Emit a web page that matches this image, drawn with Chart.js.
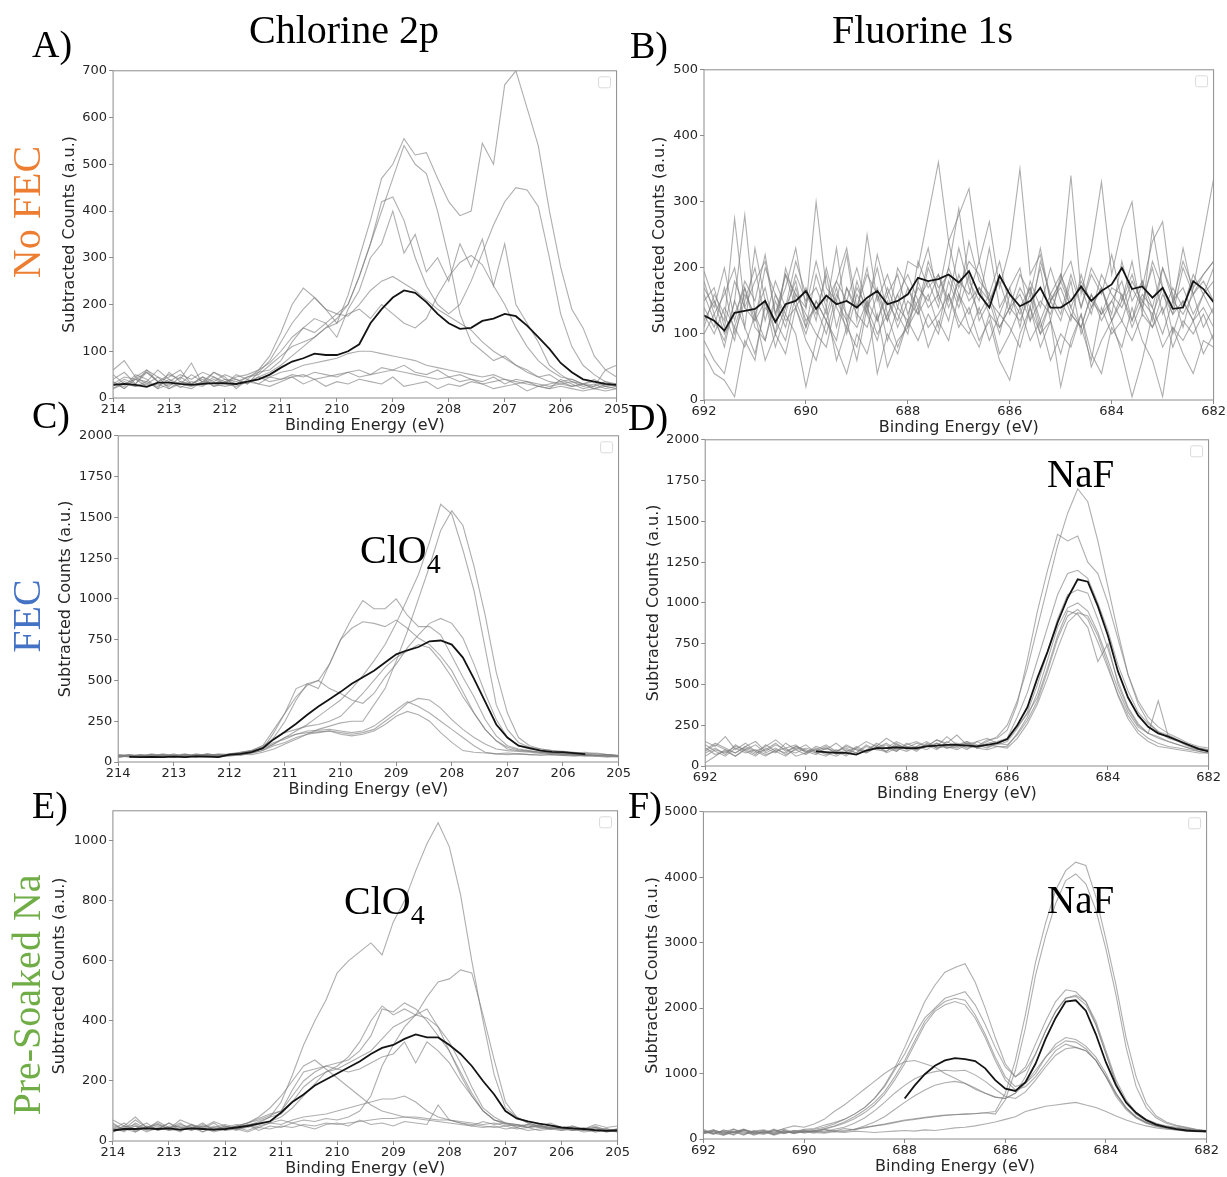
<!DOCTYPE html>
<html>
<head>
<meta charset="utf-8">
<title>Cl 2p / F 1s spectra</title>
<script src="https://cdn.jsdelivr.net/npm/chart.js@4.4.1/dist/chart.umd.min.js"></script>
<style>
  html, body { margin: 0; padding: 0; background: #fff; }
  body { position: relative; width: 1227px; height: 1177px; overflow: hidden; }
  canvas { position: absolute; z-index: 1; }
  #labels { position: absolute; left: 0; top: 0; z-index: 5; pointer-events: none; }
  #labels text { font-family: 'Liberation Serif', 'Times New Roman', serif; fill: #000; }
</style>
</head>
<body>
<svg id="labels" width="1227" height="1177">
  <text x="32" y="57" font-size="38">A)</text>
  <text x="249" y="43" font-size="40">Chlorine 2p</text>
  <text x="630" y="58" font-size="38">B)</text>
  <text x="832" y="43" font-size="40">Fluorine 1s</text>
  <text x="32" y="428" font-size="38">C)</text>
  <text x="628" y="430" font-size="38">D)</text>
  <text x="32" y="818" font-size="38">E)</text>
  <text x="628" y="818" font-size="38">F)</text>
  <text transform="translate(40,212) rotate(-90)" text-anchor="middle" font-size="40" style="fill:#ED7D31">No FEC</text>
  <text transform="translate(40,616) rotate(-90)" text-anchor="middle" font-size="40" style="fill:#4472C4">FEC</text>
  <text transform="translate(40,995) rotate(-90)" text-anchor="middle" font-size="40" style="fill:#70AD47">Pre-Soaked Na</text>
  <text x="360" y="563" font-size="40">ClO<tspan font-size="28" dy="10">4</tspan></text>
  <text x="1047" y="487" font-size="39">NaF</text>
  <text x="344" y="914" font-size="40">ClO<tspan font-size="28" dy="10">4</tspan></text>
  <text x="1047" y="913" font-size="39">NaF</text>
</svg>
<script>
// binding energy grids (eV)
const clEnergy = [214, 213.8, 213.6, 213.4, 213.2, 213, 212.8, 212.6, 212.4, 212.2, 212,
  211.8, 211.6, 211.4, 211.2, 211, 210.8, 210.6, 210.4, 210.2, 210,
  209.8, 209.6, 209.4, 209.2, 209, 208.8, 208.6, 208.4, 208.2, 208,
  207.8, 207.6, 207.4, 207.2, 207, 206.8, 206.6, 206.4, 206.2, 206,
  205.8, 205.6, 205.4, 205.2, 205];
const fEnergy = [692, 691.8, 691.6, 691.4, 691.2, 691, 690.8, 690.6, 690.4, 690.2, 690,
  689.8, 689.6, 689.4, 689.2, 689, 688.8, 688.6, 688.4, 688.2, 688,
  687.8, 687.6, 687.4, 687.2, 687, 686.8, 686.6, 686.4, 686.2, 686,
  685.8, 685.6, 685.4, 685.2, 685, 684.8, 684.6, 684.4, 684.2, 684,
  683.8, 683.6, 683.4, 683.2, 683, 682.8, 682.6, 682.4, 682.2, 682];

// A) Cl 2p, no FEC
const clNoFecScans = [
  [35,20,45,30,25,40,22,35,28,45,30, 30,45,50,70,90,110,120,130,150,160, 220,300,380,470,500,555,520,525,470,420, 390,400,545,500,670,700,620,540,400,280, 190,150,90,60,45],
  [25,40,30,55,35,25,45,30,40,25,35, 40,30,55,60,80,120,150,170,160,180, 200,260,330,400,470,540,500,480,400,300, 180,120,100,80,90,70,60,45,50,35, 40,30,25,35,30],
  [20,35,25,30,45,20,30,25,35,30,40, 30,35,45,55,70,90,110,130,150,170, 200,260,330,420,430,380,300,240,200,180, 200,250,310,370,420,450,445,410,300,180, 110,70,50,35,25],
  [30,25,50,40,20,55,35,30,45,25,30, 50,40,60,75,100,130,150,140,160,130, 190,230,300,330,400,310,350,270,300,250, 330,280,340,240,330,200,160,120,70,50, 35,30,40,25,30],
  [40,55,30,60,45,35,50,40,55,45,35, 45,50,60,90,140,200,235,215,190,180, 175,200,230,250,260,245,230,210,190,175, 160,145,120,100,85,70,55,45,35,30, 25,30,20,25,30],
  [30,45,40,35,60,40,30,50,35,55,40, 35,45,55,80,120,160,190,215,190,160, 180,190,170,200,180,160,150,170,220,260, 290,305,285,240,200,150,110,80,60,45, 40,30,35,25,20],
  [20,30,25,35,20,30,25,20,35,30,25, 30,35,40,45,55,60,70,75,80,85, 95,100,100,95,90,85,80,70,65,60, 55,50,45,50,40,35,30,25,20,25, 20,15,20,15,20],
  [35,20,40,25,30,20,35,30,25,40,30, 25,35,30,45,40,50,45,55,50,45, 55,60,50,65,60,70,55,50,60,45, 50,40,35,45,30,40,35,30,25,30, 35,25,30,20,25],
  [50,30,40,55,35,45,60,30,45,35,50, 40,30,45,35,40,45,50,40,45,50, 55,45,50,55,60,55,50,45,40,45, 35,40,30,35,40,30,35,25,30,35, 25,30,20,30,25],
  [60,80,45,60,35,50,40,75,30,55,45, 20,40,30,25,35,45,30,40,25,35, 30,40,35,30,45,25,30,35,20,30, 25,35,30,20,25,30,15,25,20,40, 30,20,25,60,70]
];
const clNoFecMean = [28,30,28,24,33,33,30,28,30,32,32, 30,35,40,50,65,78,85,95,92,92,
  100,115,160,190,215,230,225,205,180,160, 148,150,165,170,180,175,155,130,105,75, 55,40,35,30,28];

// B) F 1s, no FEC
const fNoFecScans = [
  [195,150,120,275,140,180,210,130,170,230,140, 300,170,150,220,120,250,150,190,140,210, 200,280,360,240,280,320,210,270,170,230, 350,190,220,150,180,340,160,230,330,190, 260,300,170,240,270,150,210,170,250,335],
  [160,120,90,150,280,130,170,100,200,150,110, 190,140,230,120,170,140,200,130,160,110, 180,230,150,200,290,180,150,230,140,170, 200,120,210,160,130,190,140,200,170,120, 150,210,130,260,170,140,230,160,190,210],
  [90,60,40,110,80,130,60,100,70,140,90, 60,120,80,40,100,70,130,50,90,110, 140,80,120,90,160,110,80,130,70,100, 140,90,120,60,100,80,130,50,90,120, 70,5,60,130,80,110,70,40,90,80],
  [140,110,170,100,150,200,120,180,140,210,160, 130,190,110,170,140,200,120,160,190,130, 170,150,190,140,180,160,210,150,180,130, 170,140,200,120,190,150,170,130,190,160, 140,180,150,200,130,170,140,190,160,200],
  [70,40,30,5,90,60,150,80,130,100,20, 90,140,60,110,80,150,40,100,70,120, 90,130,100,160,110,140,90,120,60,30, 100,140,80,120,20,90,130,70,40,110, 80,140,90,60,5,110,90,120,70,100],
  [120,150,100,130,170,110,90,160,120,140,100, 150,120,90,170,130,110,160,90,140,120, 210,170,190,150,230,170,130,160,110,140, 120,160,100,150,170,130,110,160,120,150, 180,120,160,140,100,150,130,160,110,140],
  [180,130,160,200,110,230,150,120,190,140,170, 120,200,140,110,180,130,220,160,110,150, 130,200,160,240,170,210,190,150,130,170, 110,180,140,200,150,120,190,140,170,130, 210,150,180,120,200,160,110,170,190,210],
  [100,130,80,150,110,70,140,120,90,160,130, 100,80,150,120,60,140,100,130,80,120, 150,110,130,160,120,100,140,90,130,110, 80,140,100,120,70,130,110,60,140,100, 120,90,130,110,140,80,120,100,130,90],
  [130,100,140,110,160,130,90,150,110,170,120, 140,100,160,130,110,150,120,170,130,100, 180,140,160,120,190,150,170,130,110,140, 160,120,150,130,180,140,110,160,130,150, 120,170,140,110,160,130,150,120,140,110],
  [150,170,110,180,140,120,200,160,130,190,150, 170,130,180,150,200,140,170,120,160,190, 150,180,140,200,160,130,170,150,190,160, 140,170,120,160,190,140,180,150,130,170, 160,120,180,140,200,150,170,130,160,180],
  [170,140,200,120,180,150,220,130,190,160,140, 210,150,180,230,140,190,160,120,200,170, 140,210,170,190,150,240,180,160,210,140, 190,160,230,150,180,210,140,190,160,220, 150,190,140,210,170,130,200,160,180,150],
  [110,160,130,90,170,120,150,100,140,180,110, 150,120,170,100,160,130,90,150,120,170, 130,160,110,180,140,190,120,150,100,160, 130,170,110,150,120,180,100,140,170,120, 160,110,150,130,170,100,150,120,160,130]
];
const fNoFecMean = [128,120,105,132,135,138,150,118,145,150,165, 138,158,145,150,140,155,165,145,150,160,
  185,180,183,190,178,195,160,140,188,160, 142,150,170,140,140,150,172,150,165,175,
  200,168,172,155,170,138,140,180,168,148];

// C) Cl 2p, FEC
const clFecScans = [
  [40,30,45,35,50,40,30,45,35,50,45, 40,55,70,110,150,190,230,280,330,380, 450,530,620,720,850,1000,1150,1350,1580,1520, 1300,1050,700,350,200,120,90,80,70,60, 55,60,50,45,40],
  [30,40,35,45,30,40,50,35,45,30,40, 50,45,60,80,110,140,170,200,220,240, 250,250,350,450,620,800,1000,1200,1420,1540, 1450,1200,900,550,300,150,100,80,70,65, 60,50,55,45,40],
  [35,45,30,40,35,50,30,40,45,35,50, 60,70,100,200,300,450,480,500,600,750, 880,990,940,940,1000,900,830,830,780,650, 520,400,260,160,100,80,70,60,55,50, 45,50,40,45,35],
  [45,35,40,30,45,35,40,30,50,40,45, 55,65,90,150,250,380,480,450,600,750, 820,860,850,830,870,820,760,720,650,560, 430,300,200,130,90,75,65,60,55,50, 45,40,45,35,40],
  [30,40,35,45,40,30,45,35,40,45,40, 50,60,80,180,300,400,470,500,450,420, 380,360,420,520,600,700,780,850,880,850, 760,600,420,260,150,100,80,70,60,55, 50,45,40,45,40],
  [40,35,45,40,30,45,35,45,40,35,50, 55,70,100,140,180,200,220,230,250,280, 350,420,500,580,640,680,720,700,620,520, 400,300,200,130,80,70,65,60,55,50, 45,40,35,40,35],
  [35,45,40,35,45,40,35,50,40,45,40, 60,70,80,110,150,170,180,185,190,180, 170,180,200,250,300,360,390,380,330,260, 200,150,110,80,70,65,60,55,50,45, 40,45,40,35,40],
  [45,40,35,50,40,35,45,40,50,40,45, 55,65,85,120,140,170,190,195,200,190, 180,190,220,270,320,370,340,300,250,200, 150,100,60,50,45,50,45,40,45,40, 35,40,35,30,35],
  [30,35,40,30,40,35,45,35,30,40,35, 45,55,70,100,120,150,170,180,190,170, 160,170,190,230,280,310,290,250,180,120, 70,60,55,50,55,50,45,50,45,40, 45,35,40,35,30]
];
const clFecMean = [null,32,30,32,30,33,30,35,33,30,45, 50,60,85,140,185,235,290,340,385,430,
  480,520,560,610,660,685,705,740,745,720, 640,510,370,230,150,100,85,70,62,60, 55,48,null,null,null];

// D) F 1s, FEC
const fFecScans = [
  [130,90,60,110,80,100,70,90,110,60,80, 100,70,90,60,110,80,120,90,140,100, 120,150,110,130,140,110,120,150,180,250, 400,600,850,1100,1350,1550,1700,1620,1380,1100, 820,560,380,270,210,170,150,130,110,100],
  [20,60,100,80,120,90,60,100,80,120,90, 70,110,80,130,100,90,140,110,90,130, 150,120,160,130,110,140,120,160,170,220, 380,650,950,1200,1420,1380,1410,1250,1180,1000, 780,560,400,300,240,200,170,140,120,110],
  [100,140,110,80,120,150,90,130,100,80,110, 90,120,70,100,80,130,100,110,150,120, 100,130,120,180,130,150,110,140,150,170, 300,450,650,850,1050,1180,1200,1150,1000,830, 620,460,330,260,210,190,160,130,110,100],
  [80,110,70,130,90,60,110,80,140,100,70, 110,80,60,90,70,100,130,80,110,90, 120,100,140,110,130,100,150,120,130,150, 230,330,500,700,900,1050,1080,1060,900,720, 520,360,260,200,170,150,130,110,90,80],
  [110,70,90,60,100,130,80,110,70,100,130, 80,60,100,70,120,90,110,140,100,120, 90,140,110,120,100,130,110,100,120,120, 200,300,450,650,850,970,1000,950,820,650, 470,330,240,200,400,180,150,120,100,90],
  [150,120,180,100,140,90,120,160,110,130,80, 120,100,140,90,110,150,120,170,130,110, 140,120,160,140,190,130,150,170,140,130, 190,280,400,580,780,920,960,900,760,600, 440,310,220,170,140,120,110,100,90,80],
  [60,100,80,120,100,70,130,90,60,110,90, 100,130,90,110,80,120,100,90,130,110, 100,120,140,110,120,150,130,110,140,160, 240,320,420,600,800,950,930,850,640,750, 500,350,250,200,180,150,130,110,100,90],
  [90,130,100,60,110,80,100,140,90,120,100, 80,110,90,120,100,80,110,130,90,140, 110,130,100,150,120,140,110,130,120,110, 170,260,380,540,720,880,940,920,800,620, 430,290,200,150,120,110,100,90,80,80]
];
const fFecMean = [null,null,null,null,null,null,null,null,null,null,null,
  90,85,80,80,70,95,110,110,115,110, 110,120,125,130,130,125,120,130,140,165,
  250,360,540,700,880,1030,1145,1130,980,800, 580,420,310,240,200,180,155,130,105,90];

// E) Cl 2p, pre-soaked Na
const clSoakScans = [
  [40,60,30,50,35,45,30,55,40,35,50, 40,55,60,80,130,220,320,400,470,560, 600,630,660,620,730,800,900,990,1060,980, 820,600,400,220,110,80,60,50,45,40, 50,35,45,30,40],
  [30,45,55,35,40,60,35,45,30,50,40, 45,35,50,60,70,60,70,65,75,70, 80,100,150,250,320,380,420,480,530,540, 570,560,420,270,130,80,60,50,45,40, 35,45,30,40,35],
  [50,40,70,45,55,40,60,35,50,45,55, 45,60,70,85,100,150,200,230,250,260, 270,300,350,440,430,460,440,400,350,300, 230,160,100,70,60,50,55,45,50,40, 45,40,50,35,40],
  [60,35,50,40,65,45,50,40,60,35,45, 55,50,65,80,90,130,180,210,230,250, 280,330,400,450,420,440,420,440,380,300, 220,150,100,70,55,50,45,55,40,45, 35,40,45,35,30],
  [35,50,40,60,35,50,45,40,55,40,50, 40,45,55,65,80,110,150,190,230,240, 260,280,300,340,380,400,420,410,380,330, 260,180,110,80,60,55,50,45,40,45, 40,35,40,30,35],
  [45,30,60,40,50,35,55,45,40,60,35, 50,60,75,90,100,170,230,240,250,240, 230,240,260,280,290,330,260,330,300,260, 200,150,100,70,60,55,45,50,40,35, 45,40,35,40,30],
  [30,50,35,45,55,40,35,50,45,30,40, 50,60,80,110,150,200,250,270,240,210, 180,150,120,100,90,80,75,70,65,60, 55,50,45,50,40,45,35,40,45,35, 40,30,35,40,35],
  [55,40,30,50,40,60,45,35,50,40,45, 35,50,45,60,55,70,80,85,90,100, 110,120,130,140,140,150,130,100,80,70, 60,55,50,45,50,40,45,35,40,45, 35,40,30,35,40],
  [40,35,50,30,45,35,40,55,30,45,35, 40,30,45,40,50,45,55,50,60,55, 60,65,70,75,75,80,80,75,70,70, 65,60,55,60,50,55,45,50,40,45, 40,35,45,40,35],
  [70,50,80,45,60,40,70,55,45,65,50, 40,55,35,50,45,60,50,40,55,60, 50,70,55,60,50,65,60,55,120,70, 60,50,65,55,60,45,55,50,60,45, 50,40,55,45,50]
];
const clSoakMean = [35,40,40,42,40,42,38,42,40,38,40, 45,50,58,65,95,130,155,185,205,225,
  245,265,290,310,320,340,355,345,345,320, 290,250,200,155,100,75,65,58,52,45, 42,40,36,34,35];

// F) F 1s, pre-soaked Na
const fSoakScans = [
  [150,80,120,60,140,90,110,70,130,100,120, 90,140,110,130,150,170,200,220,250,280, 300,320,340,360,370,380,390,400,420,700, 1200,1900,2700,3300,3800,4100,4230,4180,3700,3050, 2350,1550,950,550,350,260,210,180,150,130],
  [100,140,70,110,60,130,80,150,90,120,140, 110,150,120,160,140,180,200,230,260,290, 310,330,350,365,375,380,385,400,380,600, 1050,1700,2500,3100,3600,3950,4050,3900,3500,2900, 2200,1400,800,480,320,240,200,170,140,120],
  [120,90,60,150,100,80,130,70,110,90,150, 160,210,250,300,380,480,620,820,1080,1400, 1750,2100,2350,2550,2620,2680,2400,2000,1550,1150, 950,1050,1300,1650,1950,2150,2200,2100,1800,1350, 900,600,400,300,240,200,180,160,140,120],
  [80,130,100,70,140,110,90,120,150,100,130, 150,180,230,300,380,480,620,800,1050,1300, 1600,1850,2000,2150,2200,2250,2050,1750,1400,1100, 950,1100,1450,1800,2100,2280,2250,2100,1750,1300, 850,550,380,280,220,180,160,140,120,110],
  [110,70,140,90,120,60,100,140,80,130,110, 130,160,200,260,340,440,560,720,950,1200, 1500,1800,1980,2100,2150,2120,1900,1600,1250,950, 800,850,1000,1250,1450,1550,1520,1420,1250,1000, 700,480,330,250,200,170,150,140,120,110],
  [90,120,80,110,150,100,70,130,90,110,100, 120,150,190,240,310,400,520,680,900,1150, 1450,1750,1950,2050,2100,2050,1850,1550,1200,900, 750,800,950,1150,1350,1450,1400,1350,1200,950, 650,450,320,240,190,160,140,120,110,100],
  [130,90,110,150,80,120,140,100,160,200,180, 230,300,420,520,640,760,880,1000,1100,1180, 1200,1150,1100,1000,930,850,760,700,640,620, 700,850,1050,1250,1400,1500,1480,1380,1200,950, 680,470,330,250,200,170,150,130,120,110],
  [100,140,90,120,70,110,130,80,120,90,110, 130,110,150,180,240,320,430,560,700,820, 920,990,1030,1050,1040,1050,980,880,760,650, 620,720,900,1100,1280,1380,1400,1350,1200,960, 700,480,340,260,210,180,160,140,130,120],
  [120,80,130,100,140,90,110,60,100,130,90, 120,100,130,110,150,200,260,340,450,560, 660,750,820,860,880,850,780,700,640,620, 700,950,1300,1650,1950,2150,2180,2050,1750,1300, 850,560,380,280,230,190,170,150,130,120],
  [80,120,60,100,140,70,110,90,130,80,120, 100,90,110,100,120,110,100,110,120,130, 120,140,130,150,170,180,200,230,260,300, 340,420,460,500,520,540,560,520,480,420, 350,290,240,200,170,150,140,130,120,110]
];
const fSoakMean = [null,null,null,null,null,null,null,null,null,null,null,
  null,null,null,null,null,null,null,null,null,620,
  820,990,1120,1200,1235,1220,1190,1080,900,770, 735,870,1150,1530,1850,2100,2120,1960,1600,1170,
  820,560,400,290,220,180,150,130,120,120];

const TEXT = '#262626';
const FRAME = '#8c8c8c';
Chart.defaults.font.family = "'DejaVu Sans', sans-serif";

const panels = [
  { energies: clEnergy, scans: clNoFecScans, mean: clNoFecMean, xMin: 205, xMax: 214, xStep: 1, yMax: 700, yStep: 100,
    area: { left: 113.5, top: 71, right: 616.6, bottom: 398.3 }, yTitleGap: 43.5 },
  { energies: fEnergy, scans: fNoFecScans, mean: fNoFecMean, xMin: 682, xMax: 692, xStep: 2, yMax: 500, yStep: 100,
    area: { left: 704.4, top: 69.5, right: 1214, bottom: 400 }, yTitleGap: 44.4 },
  { energies: clEnergy, scans: clFecScans, mean: clFecMean, xMin: 205, xMax: 214, xStep: 1, yMax: 2000, yStep: 250,
    area: { left: 117.8, top: 436, right: 618, bottom: 761.7 }, yTitleGap: 52.6 },
  { energies: fEnergy, scans: fFecScans, mean: fFecMean, xMin: 682, xMax: 692, xStep: 2, yMax: 2000, yStep: 250,
    area: { left: 705.6, top: 440, right: 1209, bottom: 766 }, yTitleGap: 51.6 },
  { energies: clEnergy, scans: clSoakScans, mean: clSoakMean, xMin: 205, xMax: 214, xStep: 1, yMax: 1100, yStep: 200,
    area: { left: 112.6, top: 811, right: 617, bottom: 1141 }, yTitleGap: 53.3 },
  { energies: fEnergy, scans: fSoakScans, mean: fSoakMean, xMin: 682, xMax: 692, xStep: 2, yMax: 5000, yStep: 1000,
    area: { left: 703.3, top: 811.5, right: 1206.2, bottom: 1138.3 }, yTitleGap: 50.8 }
];

// full box round the plot plus the empty legend handle of the original
const framePlugin = {
  id: 'frame',
  afterDraw(chart) {
    const { ctx, chartArea: a } = chart;
    ctx.save();
    ctx.strokeStyle = FRAME;
    ctx.lineWidth = 1;
    ctx.strokeRect(a.left, a.top, a.right - a.left, a.bottom - a.top);
    ctx.strokeStyle = '#dadada';
    ctx.beginPath();
    ctx.roundRect(a.right - 18, a.top + 6, 12, 11, 2);
    ctx.stroke();
    ctx.restore();
  }
};

function makeConfig(p) {
  const toPoints = vals => p.energies.map((x, i) => ({ x: x, y: vals[i] }));
  const datasets = p.scans.map(vals => ({
    data: toPoints(vals),
    borderColor: 'rgba(125,125,125,0.62)',
    borderWidth: 1.1,
    order: 1
  }));
  datasets.push({ data: toPoints(p.mean), borderColor: '#141414', borderWidth: 1.8, order: 0 });

  const tickFont = { size: 13 };
  const titleFont = { size: 16 };
  return {
    type: 'line',
    data: { datasets: datasets },
    options: {
      responsive: false,
      animation: false,
      events: [],
      layout: { padding: 0 },
      elements: { point: { radius: 0 }, line: { tension: 0 } },
      plugins: { legend: { display: false }, tooltip: { enabled: false } },
      scales: {
        x: {
          type: 'linear', reverse: true, min: p.xMin, max: p.xMax,
          ticks: { stepSize: p.xStep, autoSkip: false, maxRotation: 0, padding: 0, color: TEXT, font: tickFont,
            callback: v => String(v) },
          grid: { drawOnChartArea: false, tickLength: 4, color: FRAME },
          border: { display: false },
          title: { display: true, text: 'Binding Energy (eV)', color: TEXT, font: titleFont, padding: 0 },
          afterFit: s => { s.height = 37; }
        },
        y: {
          min: 0, max: p.yMax,
          ticks: { stepSize: p.yStep, includeBounds: false, padding: 2, color: TEXT, font: tickFont,
            callback: v => String(v) },
          grid: { drawOnChartArea: false, tickLength: 4, color: FRAME },
          border: { display: false },
          title: { display: true, text: 'Subtracted Counts (a.u.)', color: TEXT, font: titleFont, padding: 0 },
          afterFit: s => { s.width = p.yTitleGap + 9.6; }
        }
      }
    },
    plugins: [framePlugin]
  };
}

// draw once to learn the margins round the plot, then redo at the right size and place
function buildPanel(p) {
  const canvas = document.createElement('canvas');
  document.body.appendChild(canvas);
  const areaW = p.area.right - p.area.left;
  const areaH = p.area.bottom - p.area.top;
  let w = Math.round(areaW + 110), h = Math.round(areaH + 70);
  canvas.width = w; canvas.height = h;
  const probe = new Chart(canvas, makeConfig(p));
  const ca = probe.chartArea;
  const ml = ca.left, mt = ca.top, mr = w - ca.right, mb = h - ca.bottom;
  probe.destroy();

  w = Math.round(areaW + ml + mr);
  h = Math.round(areaH + mt + mb);
  canvas.width = w; canvas.height = h;
  canvas.style.left = Math.round(p.area.left - ml) + 'px';
  canvas.style.top = Math.round(p.area.top - mt) + 'px';
  new Chart(canvas, makeConfig(p));
}

panels.forEach(buildPanel);
</script>
</body>
</html>
